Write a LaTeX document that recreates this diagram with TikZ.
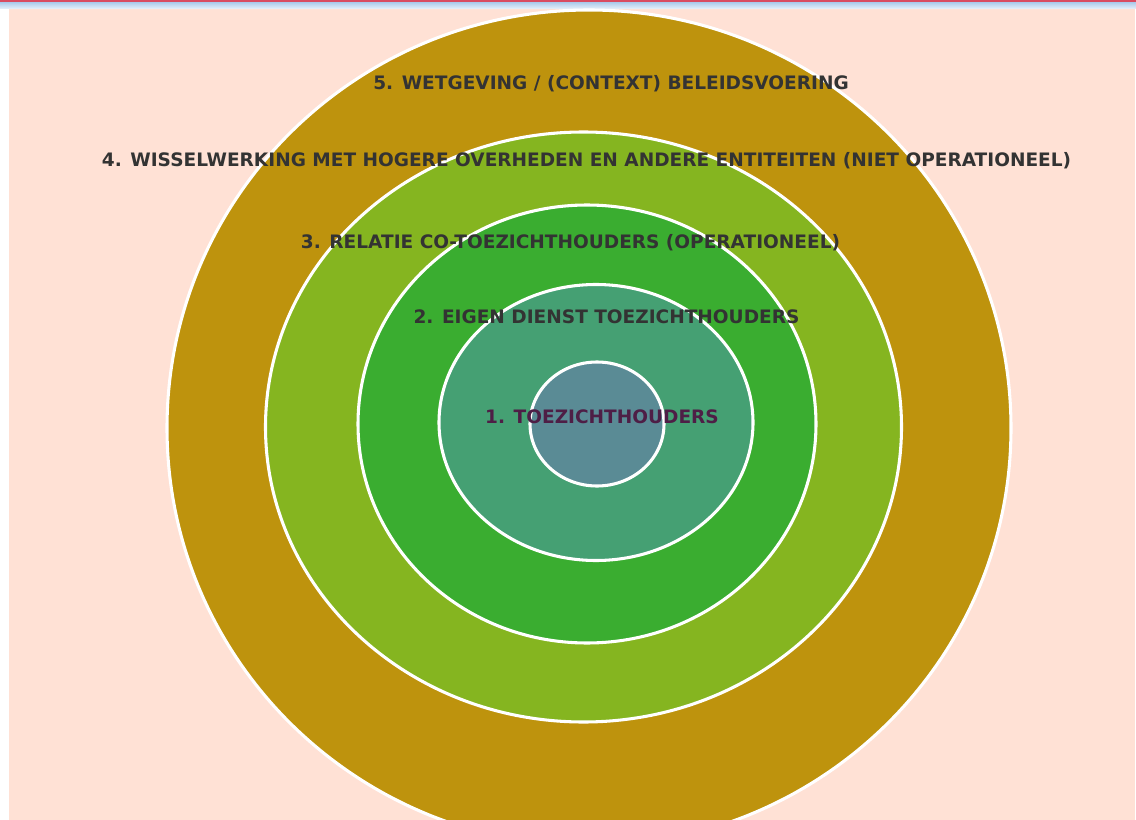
\documentclass[tikz,border=0pt]{standalone}
\usepackage{fontspec}
\setmainfont{DejaVu Sans}
\definecolor{peach}{HTML}{FFE1D5}
\definecolor{ringfive}{HTML}{BE930D}
\definecolor{ringfour}{HTML}{85B520}
\definecolor{ringthree}{HTML}{3AAD30}
\definecolor{ringtwo}{HTML}{45A073}
\definecolor{ringone}{HTML}{5A8B95}
\definecolor{labeltext}{HTML}{333333}
\definecolor{coretext}{HTML}{4E1E46}
\definecolor{topline}{HTML}{D94B60}
\definecolor{bandtop}{HTML}{A9C9EA}
\definecolor{bandbottom}{HTML}{EAF2FA}
\begin{document}
\begin{tikzpicture}[x=0.75pt,y=-0.75pt,
  ring/.style={draw=white,line width=2.3pt},
  ringlabel/.style={font=\fontsize{13.9pt}{16pt}\selectfont\bfseries,text=labeltext,inner sep=0pt}]
\useasboundingbox (0,0) rectangle (1136,820);
% page background and window chrome
\fill[white] (0,0) rectangle (1136,820);
\fill[peach] (9,9) rectangle (1135,820);
\shade[top color=bandtop,bottom color=bandbottom] (0,2) rectangle (1136,9);
\fill[topline] (0,0) rectangle (1136,2);
% nested rings, outermost first
\begin{scope}
\clip (0,9) rectangle (1136,820);
\draw[ring,fill=ringfive] (589,428) ellipse [x radius=422,y radius=418];
\end{scope}
\draw[ring,fill=ringfour] (583.5,427) ellipse [x radius=318,y radius=295];
\draw[ring,fill=ringthree] (587,424) ellipse [x radius=229,y radius=219];
\draw[ring,fill=ringtwo] (596,422.5) ellipse [x radius=157,y radius=138];
\draw[ring,fill=ringone] (597,424) ellipse [x radius=67,y radius=62];
% ring labels
\node[ringlabel] (l5) at (611,84) {5. WETGEVING / (CONTEXT) BELEIDSVOERING};
\node[ringlabel] (l4) at (586.5,161) {4. WISSELWERKING MET HOGERE OVERHEDEN EN ANDERE ENTITEITEN (NIET OPERATIONEEL)};
\node[ringlabel] (l3) at (570.5,243) {3. RELATIE CO-TOEZICHTHOUDERS (OPERATIONEEL)};
\node[ringlabel] (l2) at (606.5,317) {2. EIGEN DIENST TOEZICHTHOUDERS};
\node[ringlabel,text=coretext] (l1) at (602,417) {1. TOEZICHTHOUDERS};
\end{tikzpicture}
\end{document}
